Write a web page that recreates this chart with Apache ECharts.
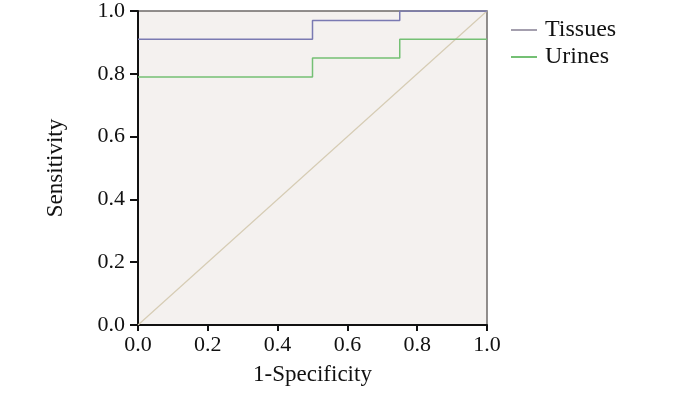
<!DOCTYPE html>
<html>
<head>
<meta charset="utf-8">
<script src="https://cdn.jsdelivr.net/npm/echarts@6/dist/echarts.min.js"></script>
<style>
  html, body { margin: 0; padding: 0; background: #fff; }
  #chart { width: 700px; height: 396px; }
</style>
</head>
<body>
<div id="chart"></div>
<script>
// ROC points
const tissuesX = [0, 0.5, 0.5, 0.75, 0.75, 1]
const tissuesY = [0.91, 0.91, 0.97, 0.97, 1.0, 1.0]
const urinesX = [0, 0.5, 0.5, 0.75, 0.75, 1]
const urinesY = [0.79, 0.79, 0.85, 0.85, 0.91, 0.91]
const refX = [0, 1]
const refY = [0, 1]
const seriesNames = ['Tissues', 'Urines']

function pairs (xs, ys) {
  return xs.map((x, i) => [x, ys[i]])
}

const font = 'Liberation Serif'
const chart = echarts.init(document.getElementById('chart'))

chart.setOption({
  animation: false,
  textStyle: { fontFamily: font },
  grid: {
    left: 138, right: 213, top: 8, bottom: 71,
    show: true,
    backgroundColor: '#f4f1ef',
    borderColor: '#6e6a68',
    borderWidth: 1.5
  },
  legend: {
    orient: 'vertical',
    left: 506, top: 13,
    itemWidth: 26, itemHeight: 2,
    itemGap: 3,
    icon: 'rect',
    data: seriesNames,
    textStyle: { fontFamily: font, fontSize: 24, lineHeight: 24, color: '#111', padding: [0, 0, 0, 3] }
  },
  xAxis: {
    type: 'value', min: 0, max: 1, interval: 0.2,
    name: '1-Specificity', nameLocation: 'middle', nameGap: 38,
    nameTextStyle: { fontFamily: font, fontSize: 23, color: '#111' },
    axisLine: { onZero: false, lineStyle: { color: '#111', width: 2 } },
    axisTick: { inside: false, length: 6, lineStyle: { color: '#111', width: 2 } },
    axisLabel: { inside: false, fontFamily: font, fontSize: 22, color: '#111', margin: 9, formatter: v => v.toFixed(1) },
    splitLine: { show: false }
  },
  yAxis: {
    type: 'value', min: 0, max: 1, interval: 0.2,
    name: 'Sensitivity', nameLocation: 'middle', nameGap: 71,
    nameTextStyle: { fontFamily: font, fontSize: 23, color: '#111' },
    axisLine: { onZero: false, lineStyle: { color: '#111', width: 2 } },
    axisTick: { inside: false, length: 8, lineStyle: { color: '#111', width: 2 } },
    axisLabel: { inside: false, fontFamily: font, fontSize: 22, color: '#111', margin: 13, formatter: v => v.toFixed(1) },
    splitLine: { show: false }
  },
  series: [
    {
      name: 'Reference',
      type: 'line',
      data: pairs(refX, refY),
      symbol: 'none',
      lineStyle: { color: '#d6ccb4', width: 1.2 },
      z: 1
    },
    {
      name: 'Tissues',
      type: 'line',
      data: pairs(tissuesX, tissuesY),
      symbol: 'none',
      color: '#a49fae',
      lineStyle: { color: '#7a7ab2', width: 1.5 },
      z: 3
    },
    {
      name: 'Urines',
      type: 'line',
      data: pairs(urinesX, urinesY),
      symbol: 'none',
      color: '#74c074',
      lineStyle: { color: '#74c074', width: 1.5 },
      z: 2
    }
  ]
})
</script>
</body>
</html>
